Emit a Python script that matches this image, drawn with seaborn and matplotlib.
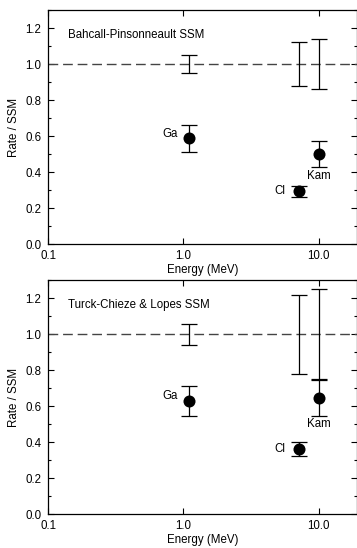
import matplotlib
matplotlib.use("Agg")
import matplotlib.pyplot as plt
from matplotlib.ticker import FixedLocator, MultipleLocator, NullLocator, FixedFormatter
import pandas as pd
import seaborn as sns

# experiments: x position (MeV) and labels
experiments = ['Ga', 'Cl', 'Kam']
energy = [1.1, 7.2, 10.0]

# Bahcall-Pinsonneault panel
bp_rate = [0.59, 0.293, 0.50]
bp_lo = [0.512, 0.262, 0.428]
bp_hi = [0.664, 0.321, 0.571]
bp_theory_lo = [0.948, 0.877, 0.862]
bp_theory_hi = [1.053, 1.124, 1.141]

# Turck-Chieze & Lopes panel
tcl_rate = [0.631, 0.362, 0.645]
tcl_lo = [0.547, 0.321, 0.547]
tcl_hi = [0.710, 0.400, 0.747]
tcl_theory_lo = [0.942, 0.779, 0.750]
tcl_theory_hi = [1.057, 1.217, 1.248]

titles = ['Bahcall-Pinsonneault SSM', 'Turck-Chieze & Lopes SSM']

# label offsets in points (dx, dy, ha), one dict per panel
label_offsets = [
    {'Ga': (-8, 3, 'right'), 'Cl': (-10, 0, 'right'), 'Kam': (0, -16, 'center')},
    {'Ga': (-8, 3, 'right'), 'Cl': (-10, 0, 'right'), 'Kam': (0, -19, 'center')},
]

FS = 8.3

sns.set_style("ticks")
plt.rcParams['font.family'] = ['Liberation Sans', 'DejaVu Sans']
plt.rcParams['font.size'] = FS
plt.rcParams['text.color'] = 'black'
plt.rcParams['axes.labelcolor'] = 'black'
plt.rcParams['xtick.color'] = 'black'
plt.rcParams['ytick.color'] = 'black'
plt.rcParams['axes.edgecolor'] = 'black'

fig = plt.figure(figsize=(3.57, 5.48), dpi=100)
ax_top = fig.add_axes([48.3 / 357, 1 - 244.3 / 548, (357 - 48.3) / 357, 234.3 / 548])
ax_bot = fig.add_axes([48.3 / 357, 1 - 514.3 / 548, (357 - 48.3) / 357, 234.3 / 548])

panels = [
    (ax_top, bp_rate, bp_lo, bp_hi, bp_theory_lo, bp_theory_hi, titles[0], label_offsets[0]),
    (ax_bot, tcl_rate, tcl_lo, tcl_hi, tcl_theory_lo, tcl_theory_hi, titles[1], label_offsets[1]),
]

for ax, rate, lo, hi, tlo, thi, title, offs in panels:
    df = pd.DataFrame({'exp': experiments, 'energy': energy, 'rate': rate, 'lo': lo, 'hi': hi,
                       'tlo': tlo, 'thi': thi})
    ax.set_xscale('log')
    ax.axhline(1.0, color='#444444', lw=1.0, ls=(0, (7, 3.5)), zorder=1)

    # theory uncertainty around 1.0
    ax.errorbar(df['energy'], [1.0] * len(df),
                yerr=[1.0 - df['tlo'], df['thi'] - 1.0],
                fmt='none', ecolor='black', elinewidth=0.9, capsize=5.5, capthick=0.9, zorder=2)
    # measurements
    ax.errorbar(df['energy'], df['rate'],
                yerr=[df['rate'] - df['lo'], df['hi'] - df['rate']],
                fmt='none', ecolor='black', elinewidth=0.9, capsize=5.5, capthick=0.9, zorder=2)
    sns.scatterplot(data=df, x='energy', y='rate', ax=ax, color='black', s=75,
                    edgecolor='black', linewidth=0, zorder=3, legend=False)

    for _, row in df.iterrows():
        dx, dy, ha = offs[row['exp']]
        ax.annotate(row['exp'], (row['energy'], row['rate']), xytext=(dx, dy),
                    textcoords='offset points', ha=ha, va='center', fontsize=FS)

    ax.text(0.063, 0.895, title, transform=ax.transAxes, fontsize=FS, va='center')

    ax.set_xlim(0.1, 19.2)
    ax.set_ylim(0, 1.3)
    ax.xaxis.set_major_locator(FixedLocator([0.1, 1.0, 10.0]))
    ax.xaxis.set_major_formatter(FixedFormatter(['0.1', '1.0', '10.0']))
    ax.xaxis.set_minor_locator(NullLocator())
    ax.yaxis.set_major_locator(MultipleLocator(0.2))
    ax.yaxis.set_minor_locator(MultipleLocator(0.1))
    ax.yaxis.set_major_formatter(plt.FuncFormatter(lambda v, p: f'{v:.1f}'))
    ax.tick_params(which='both', direction='in', top=True, right=True, labelsize=FS, width=0.8)
    ax.tick_params(axis='y', pad=5)
    ax.tick_params(axis='x', pad=4)
    ax.tick_params(which='major', length=4)
    ax.tick_params(which='minor', length=2.5)
    for s in ax.spines.values():
        s.set_linewidth(0.9)
    ax.set_xlabel('Energy (MeV)', fontsize=FS, labelpad=1.5)
    ax.set_ylabel('Rate / SSM', fontsize=FS, labelpad=4)

fig.savefig('out.png', dpi=100)
